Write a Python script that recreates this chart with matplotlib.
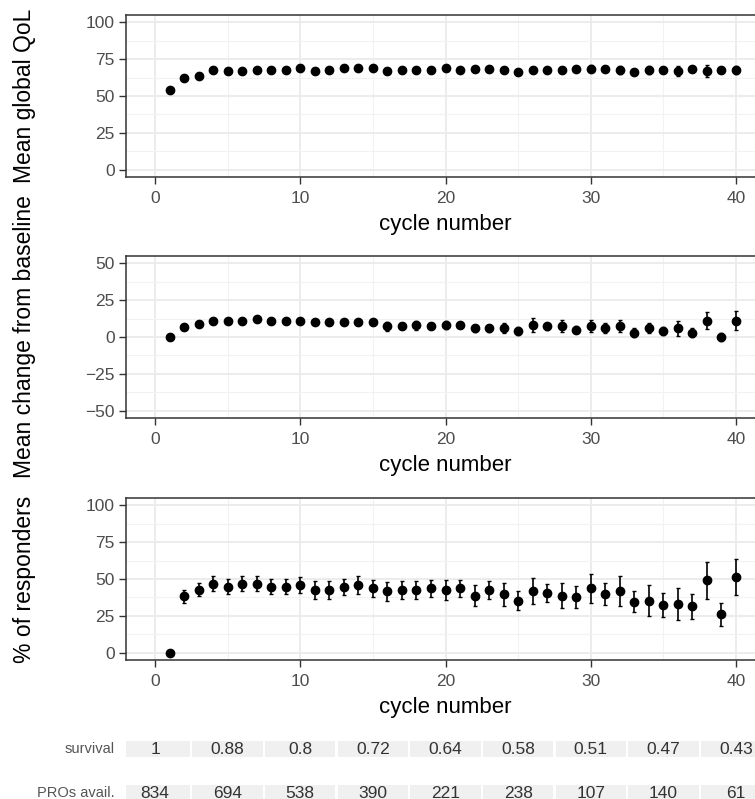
import numpy as np
import matplotlib
matplotlib.use("Agg")
import matplotlib.pyplot as plt
from matplotlib.ticker import MultipleLocator

plt.rcParams['font.family'] = ['Liberation Sans', 'DejaVu Sans']

# cycle numbers
cycles = list(range(1, 41))

# mean global QoL (+/- half CI)
qol = [54.3, 62.5, 63.6, 67.7, 66.8, 66.8, 67.7, 67.7, 67.7, 68.8,
       66.8, 67.7, 68.8, 68.8, 68.8, 66.8, 67.7, 67.7, 67.7, 68.8,
       67.7, 68.6, 68.6, 67.7, 66.1, 67.7, 67.7, 67.7, 68.6, 68.6,
       68.6, 67.7, 66.3, 67.7, 67.7, 66.8, 68.6, 66.8, 67.7, 67.7]
qol_err = [1, 1, 1, 1, 1, 1, 1, 1, 1, 1,
           1, 1, 1, 1, 1, 1, 1, 1.5, 1, 2,
           1, 1.5, 1.5, 2, 1.5, 2, 2, 2, 1.5, 2.5,
           2, 3, 1.5, 3, 2, 3.5, 2, 4, 2, 3]

# mean change from baseline
chg = [0, 7, 9, 11.1, 11.1, 11.1, 12.3, 11.1, 11.1, 11.1,
       10.2, 10.2, 10.2, 10.2, 10.2, 7.3, 7.3, 8.0, 7.3, 8.2,
       8.2, 5.9, 5.9, 5.9, 4.1, 8.2, 7.3, 7.3, 5.0, 7.3,
       5.9, 7.3, 2.9, 5.9, 4.1, 5.9, 2.9, 11.1, 0.0, 11.1]
chg_err = [0, 1, 1, 1, 1, 1, 1, 1, 1, 1,
           1, 1, 1.5, 1, 2, 3, 2, 3, 1.5, 2.5,
           2, 2.5, 2.5, 3.5, 2.5, 4.5, 2.5, 4, 2.5, 4,
           3.5, 4, 3, 3.5, 3, 5, 3, 6, 3, 6.5]

# % of responders
resp = [0, 38.2, 42.7, 46.8, 44.8, 46.8, 46.8, 44.8, 44.8, 45.7,
        42.7, 42.7, 44.8, 45.7, 43.6, 41.6, 42.7, 42.7, 43.6, 42.7,
        43.6, 38.6, 42.7, 39.5, 35.4, 41.8, 40.7, 38.6, 37.8, 43.6,
        39.8, 41.8, 34.6, 35.4, 32.3, 33.0, 31.4, 49.1, 26.2, 51.1]
resp_err = [0, 4.5, 4.5, 5, 5, 5, 5, 5, 5, 5.5,
            6, 6, 5.5, 6, 5.5, 6.5, 6, 6, 5.7, 6.9,
            5.8, 7.2, 6.2, 7.7, 6.2, 8.9, 6, 8.6, 7.2, 9.7,
            7.3, 9.9, 7.3, 10.5, 8.4, 11, 8.5, 12.7, 7.8, 12.3]

# table under the plots
tab_cycles = [0, 5, 10, 15, 20, 25, 30, 35, 40]
survival = ['1', '0.88', '0.8', '0.72', '0.64', '0.58', '0.51', '0.47', '0.43']
pros = ['834', '694', '538', '390', '221', '238', '107', '140', '61']
row_names = ['survival', 'PROs avail.']

W, H = 755, 799
fig = plt.figure(figsize=(W / 100, H / 100), dpi=100)


def px_axes(left, top, right, bottom):
    return fig.add_axes([left / W, 1 - bottom / H, (right - left) / W, (bottom - top) / H])


def style(ax, ylim, yticks):
    ax.set_xlim(-2, 42)
    ax.set_ylim(*ylim)
    ax.set_yticks(yticks)
    ax.xaxis.set_major_locator(MultipleLocator(10))
    ax.xaxis.set_minor_locator(MultipleLocator(5))
    ax.yaxis.set_minor_locator(MultipleLocator(12.5))
    ax.grid(True, which='major', color='#EBEBEB', linewidth=1.3)
    ax.grid(True, which='minor', color='#F2F2F2', linewidth=0.8)
    ax.set_axisbelow(True)
    for s in ax.spines.values():
        s.set_color('#333333')
        s.set_linewidth(1.1)
    ax.tick_params(which='major', length=5, width=1, color='#333333',
                   labelsize=12.5, labelcolor='#4D4D4D', pad=3)
    ax.tick_params(axis='x', which='major', pad=5)
    ax.tick_params(which='minor', length=0)
    ax.set_xlabel('cycle number', fontsize=16, labelpad=6)


panels = [
    (15, 177, qol, qol_err, (-5, 105), [0, 25, 50, 75, 100], 'Mean global QoL'),
    (256, 418, chg, chg_err, (-55, 55), [-50, -25, 0, 25, 50], 'Mean change from baseline'),
    (498, 660, resp, resp_err, (-5, 105), [0, 25, 50, 75, 100], '% of responders'),
]

for top, bottom, y, err, ylim, yt, lab in panels:
    ax = px_axes(126, top, 765, bottom)
    style(ax, ylim, yt)
    ax.errorbar(cycles, y, yerr=err, fmt='o', color='black', ms=6,
                elinewidth=1.2, capsize=1.2, capthick=1)
    fig.text(25 / W, 1 - (top + bottom) / 2 / H, lab, rotation=90,
             ha='center', va='center', fontsize=16.5)

# risk table
tax = px_axes(126, 727, 765, 815)
tax.set_xlim(-2, 42)
tax.set_ylim(2, 0)
tax.axis('off')
for i, (name, vals) in enumerate(zip(row_names, [survival, pros])):
    tax.bar(tab_cycles, 0.38, width=4.85, bottom=i + 0.5 - 0.19,
            color='#F0F0F0', clip_on=True)
    for xc, v in zip(tab_cycles, vals):
        tax.text(xc, i + 0.5, v, ha='center', va='center', fontsize=12.5,
                 color='#333333')
    fig.text(115 / W, 1 - (749 + 44 * i) / H, name, ha='right', va='center',
             fontsize=10.5, color='#555555')

fig.savefig('out.png', dpi=100)
